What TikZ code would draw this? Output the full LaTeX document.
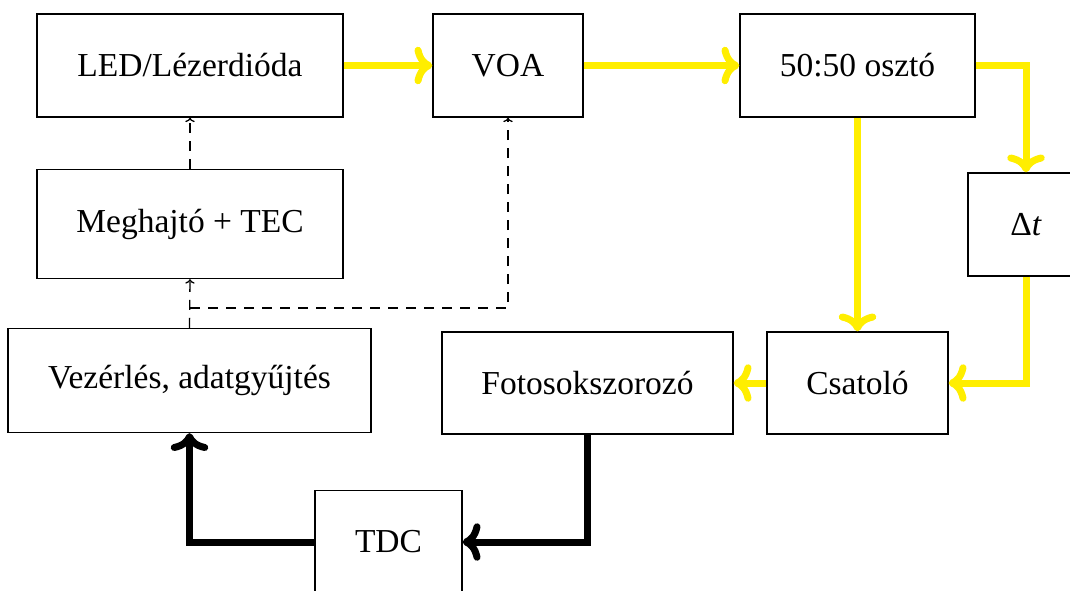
\documentclass[tikz,border=0pt]{standalone}
\usepackage{fontspec}
\setmainfont{Liberation Serif}
\usetikzlibrary{arrows.meta}
\definecolor{ylw}{RGB}{255,238,0}
\begin{document}
\begin{tikzpicture}[x=1pt,y=-1pt,
  box/.style={draw, line width=1.3pt, rectangle, inner sep=0pt, font=\fontsize{33.5}{40}\selectfont},
  yarr/.style={draw=ylw, line width=7pt, -{Computer Modern Rightarrow[scale=1.05]}},
  barr/.style={draw=black, line width=7pt, -{Computer Modern Rightarrow[scale=1.05]}},
  darr/.style={->, dash pattern=on 10pt off 8pt, line width=1.3pt}]
\useasboundingbox (0,0) rectangle (1070,590);
\node[box, minimum width=306pt, minimum height=103pt] (led) at (190,65.5) {LED/Lézerdióda};
\node[box, minimum width=150pt, minimum height=103pt] (voa) at (508,65.5) {VOA};
\node[box, minimum width=235pt, minimum height=103pt] (osz) at (857.5,65.5) {50:50 osztó};
\node[box, minimum width=116pt, minimum height=103pt] (dt) at (1026,224.5) {Δ\textit{t}};
\node[box, minimum width=306pt, minimum height=109pt] (meg) at (190,224) {Meghajtó + TEC};
\node[box, minimum width=363pt, minimum height=104pt] (vez) at (189.5,380.5) {Vezérlés, adatgyűjtés};
\node[box, minimum width=291pt, minimum height=102pt] (foto) at (587.5,383) {Fotosokszorozó};
\node[box, minimum width=181pt, minimum height=102pt] (csat) at (857.5,383) {Csatoló};
\node[box, minimum width=147pt, minimum height=103pt] (tdc) at (388.5,542) {TDC};
\draw[yarr] (led.east) -- (voa.west);
\draw[yarr] (voa.east) -- (osz.west);
\draw[yarr] (osz.east) -| (dt.north);
\draw[yarr] (osz.south) -- (csat.north);
\draw[yarr] (dt.south) |- (csat.east);
\draw[yarr] (csat.west) -- (foto.east);
\draw[barr] (foto.south) |- (tdc.east);
\draw[barr] (tdc.west) -| (vez.south);
\draw[darr] (meg.north) -- (led.south);
\draw[darr] (vez.north) -- (meg.south);
\coordinate (j) at (190,308);
\draw[darr] (j) -| (voa.south);
\end{tikzpicture}
\end{document}
